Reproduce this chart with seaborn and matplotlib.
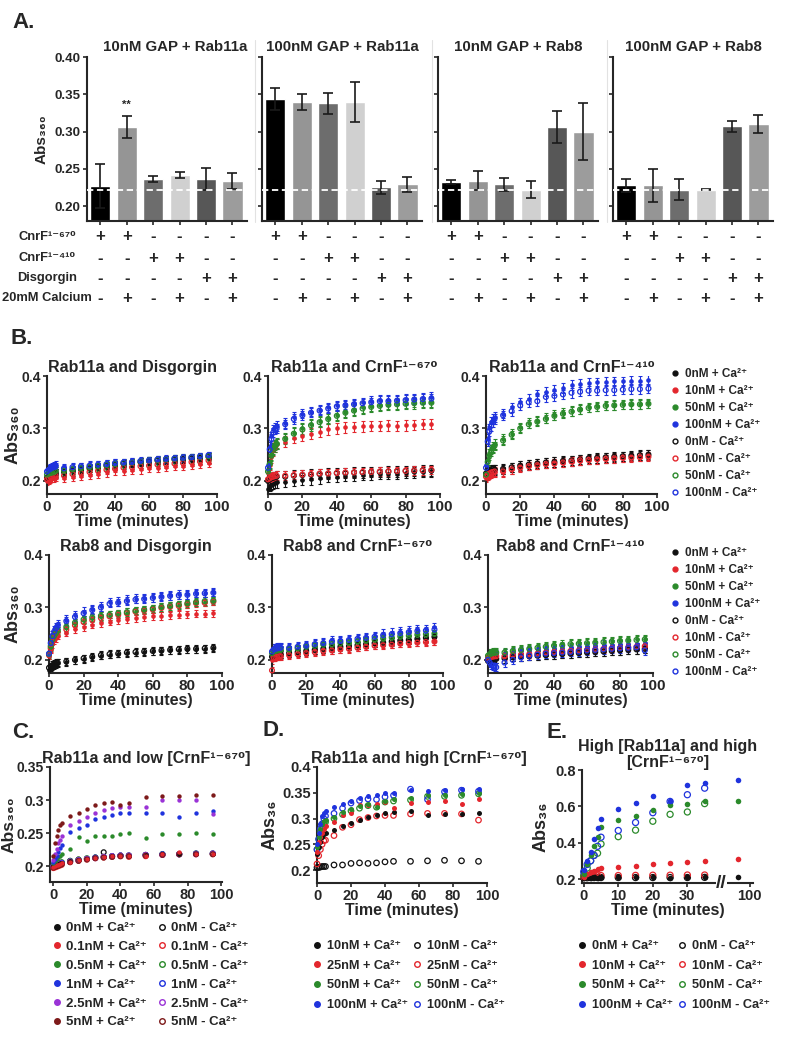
import numpy as np
import pandas as pd
import matplotlib
matplotlib.use('Agg')
import matplotlib.pyplot as plt
import matplotlib.transforms as mtrans
from matplotlib.lines import Line2D
import seaborn as sns

sns.set_style('ticks')
plt.rcParams['font.family'] = ['Liberation Sans', 'DejaVu Sans']
plt.rcParams['font.weight'] = 'bold'
plt.rcParams['axes.labelweight'] = 'bold'
plt.rcParams['axes.titleweight'] = 'bold'
plt.rcParams['axes.linewidth'] = 1.5
plt.rcParams['xtick.major.width'] = 1.2
plt.rcParams['ytick.major.width'] = 1.2
plt.rcParams['xtick.major.size'] = 3
plt.rcParams['ytick.major.size'] = 3
plt.rcParams['xtick.major.pad'] = 1.5
plt.rcParams['ytick.major.pad'] = 1.5

# ---------------- data ----------------
# A: end-point absorbance, 6 lanes per GAP/Rab combination
a_lanes = ['l1', 'l2', 'l3', 'l4', 'l5', 'l6']
a_gap10_rab11 = [0.227, 0.306, 0.236, 0.242, 0.236, 0.234]
a_gap10_rab11_err = [0.029, 0.015, 0.004, 0.004, 0.015, 0.011]
a_gap100_rab11 = [0.344, 0.340, 0.338, 0.340, 0.225, 0.229]
a_gap100_rab11_err = [0.015, 0.011, 0.014, 0.027, 0.009, 0.010]
a_gap10_rab8 = [0.232, 0.234, 0.229, 0.222, 0.306, 0.300]
a_gap10_rab8_err = [0.003, 0.013, 0.009, 0.011, 0.022, 0.038]
a_gap100_rab8 = [0.228, 0.228, 0.222, 0.222, 0.307, 0.310]
a_gap100_rab8_err = [0.009, 0.022, 0.014, 0.001, 0.007, 0.012]
a_baseline = 0.222
a_row_names = ['CnrF¹⁻⁶⁷⁰', 'CnrF¹⁻⁴¹⁰', 'Disgorgin', '20mM Calcium']
a_row_signs = [['+', '+', '-', '-', '-', '-'],
               ['-', '-', '+', '+', '-', '-'],
               ['-', '-', '-', '-', '+', '+'],
               ['-', '+', '-', '+', '-', '+']]

# B: time courses (milli-absorbance), conc order 0, 10, 50, 100 nM
b_time = [0, 1, 2, 3, 4, 5, 10, 15, 20, 25, 30, 35, 40, 45, 50, 55, 60, 65, 70, 75, 80, 85, 90, 95]
r11_dis_plus = [
    [205, 208, 210, 212, 213, 214, 215, 218, 220, 222, 224, 226, 228, 230, 231, 233, 235, 236, 237, 238, 239, 240, 241, 243],
    [200, 202, 204, 205, 206, 207, 205, 208, 210, 212, 214, 216, 220, 219, 221, 222, 224, 225, 226, 228, 229, 230, 232, 234],
    [210, 212, 214, 215, 216, 218, 218, 220, 222, 224, 226, 228, 230, 232, 234, 236, 237, 238, 240, 241, 242, 243, 244, 246],
    [220, 224, 226, 228, 229, 230, 226, 227, 228, 230, 231, 233, 234, 235, 236, 237, 239, 240, 241, 242, 243, 244, 246, 248]]
r11_dis_minus = [
    [206, 209, 211, 213, 214, 215, 217, 220, 222, 224, 227, 229, 231, 233, 234, 236, 238, 239, 240, 241, 242, 243, 244, 246],
    [203, 205, 207, 208, 209, 210, 210, 213, 215, 217, 219, 221, 223, 225, 226, 228, 229, 231, 232, 233, 234, 236, 237, 239],
    [212, 214, 215, 216, 217, 219, 219, 222, 224, 226, 228, 230, 232, 234, 235, 237, 239, 240, 241, 242, 244, 245, 246, 247],
    [218, 221, 223, 225, 226, 227, 224, 226, 228, 229, 231, 232, 234, 235, 236, 238, 239, 241, 242, 243, 244, 245, 247, 249]]
r11_dis_err = [8, 8, 8, 7, 7, 7, 7, 7]

r11_670_plus = [
    [185, 190, 192, 194, 196, 197, 198, 200, 202, 203, 205, 207, 208, 209, 210, 211, 212, 213, 213, 214, 215, 216, 217, 218],
    [215, 230, 245, 258, 265, 270, 275, 282, 286, 290, 293, 298, 300, 302, 303, 304, 305, 305, 306, 305, 306, 307, 308, 308],
    [220, 235, 250, 262, 268, 272, 282, 292, 300, 308, 314, 320, 326, 332, 336, 340, 343, 345, 347, 348, 349, 350, 350, 350],
    [230, 265, 285, 298, 302, 305, 310, 322, 328, 332, 336, 340, 344, 346, 348, 350, 352, 354, 354, 355, 356, 357, 358, 360]]
r11_670_minus = [
    [200, 203, 205, 206, 207, 208, 208, 210, 211, 212, 213, 214, 215, 215, 216, 216, 217, 217, 218, 218, 219, 219, 220, 220],
    [203, 205, 207, 208, 209, 210, 210, 211, 212, 213, 214, 214, 215, 216, 216, 217, 217, 218, 218, 219, 219, 220, 220, 221],
    [218, 232, 248, 260, 266, 270, 280, 290, 298, 306, 312, 318, 324, 330, 334, 338, 341, 343, 345, 346, 347, 348, 349, 349],
    [225, 260, 280, 292, 298, 300, 308, 318, 325, 330, 334, 338, 342, 344, 346, 348, 350, 352, 352, 353, 354, 355, 356, 357]]
r11_670_err = [10, 10, 10, 9, 10, 8, 10, 9]

r11_410_plus = [
    [215, 218, 220, 221, 222, 222, 222, 225, 228, 230, 232, 234, 236, 237, 238, 240, 241, 243, 244, 245, 246, 247, 248, 249],
    [205, 210, 212, 214, 215, 216, 216, 222, 226, 228, 230, 232, 234, 234, 236, 238, 240, 241, 242, 243, 244, 245, 246, 247],
    [215, 240, 252, 260, 265, 270, 280, 290, 302, 310, 315, 320, 326, 330, 333, 337, 340, 342, 344, 345, 346, 347, 347, 348],
    [230, 280, 300, 312, 318, 322, 328, 340, 350, 356, 365, 370, 373, 377, 383, 385, 387, 388, 389, 390, 390, 391, 391, 392]]
r11_410_minus = [
    [214, 216, 218, 219, 220, 221, 223, 226, 229, 231, 233, 235, 236, 238, 239, 241, 243, 244, 245, 246, 247, 248, 249, 250],
    [208, 212, 214, 216, 217, 218, 218, 222, 225, 228, 230, 232, 233, 235, 237, 239, 240, 241, 242, 243, 244, 244, 245, 246],
    [212, 236, 248, 256, 262, 267, 277, 288, 300, 308, 313, 318, 324, 328, 332, 336, 339, 341, 343, 344, 345, 346, 346, 347],
    [225, 275, 295, 305, 312, 318, 325, 333, 344, 350, 352, 360, 362, 365, 368, 370, 372, 372, 373, 373, 374, 375, 375, 376]]
r11_410_err = [9, 8, 9, 9, 9, 8, 8, 9]

r8_dis_plus = [
    [180, 185, 188, 190, 192, 194, 196, 199, 202, 205, 208, 210, 212, 213, 214, 215, 216, 217, 218, 219, 220, 220, 221, 222],
    [208, 220, 230, 238, 242, 246, 252, 258, 263, 267, 270, 273, 276, 278, 280, 282, 283, 284, 285, 286, 287, 288, 288, 289],
    [210, 225, 238, 245, 250, 255, 262, 270, 276, 280, 283, 285, 288, 290, 293, 295, 297, 300, 302, 305, 307, 310, 311, 312],
    [215, 235, 248, 256, 262, 268, 277, 285, 292, 297, 302, 310, 311, 315, 317, 318, 319, 322, 323, 325, 325, 328, 328, 329]]
r8_dis_minus = [
    [185, 188, 190, 192, 194, 195, 197, 200, 203, 206, 209, 211, 212, 214, 215, 216, 217, 218, 219, 220, 221, 221, 222, 223],
    [209, 222, 235, 243, 248, 252, 258, 266, 272, 276, 280, 283, 286, 289, 292, 294, 296, 299, 301, 303, 306, 308, 309, 311],
    [211, 226, 239, 246, 251, 256, 263, 271, 277, 281, 284, 286, 289, 291, 294, 296, 298, 301, 303, 306, 308, 310, 312, 313],
    [212, 232, 245, 254, 260, 265, 274, 282, 289, 295, 300, 307, 309, 312, 315, 316, 318, 320, 322, 323, 324, 326, 327, 328]]
r8_dis_err = [7, 7, 8, 8, 7, 7, 7, 7]

r8_670_plus = [
    [205, 207, 208, 209, 210, 210, 212, 214, 216, 218, 220, 222, 224, 225, 227, 229, 231, 233, 234, 236, 238, 240, 241, 243],
    [200, 205, 206, 207, 208, 208, 210, 212, 214, 216, 218, 219, 221, 222, 224, 226, 228, 229, 230, 232, 233, 234, 235, 236],
    [212, 215, 216, 217, 218, 218, 219, 221, 224, 226, 228, 229, 231, 232, 234, 236, 238, 240, 242, 244, 245, 247, 248, 249],
    [218, 222, 223, 224, 225, 225, 224, 226, 228, 232, 234, 238, 238, 240, 242, 244, 246, 250, 252, 254, 256, 258, 259, 262]]
r8_670_minus = [
    [206, 208, 209, 210, 211, 211, 213, 215, 217, 219, 221, 223, 225, 226, 228, 230, 232, 233, 235, 237, 238, 240, 242, 244],
    [180, 204, 205, 206, 207, 207, 209, 211, 213, 215, 217, 218, 220, 221, 223, 225, 227, 228, 229, 231, 232, 233, 234, 235],
    [213, 216, 217, 218, 219, 219, 220, 222, 225, 227, 229, 230, 232, 233, 235, 237, 239, 241, 243, 245, 246, 248, 249, 250],
    [216, 220, 221, 222, 223, 223, 223, 225, 227, 230, 232, 235, 236, 238, 240, 242, 244, 247, 249, 251, 253, 255, 256, 258]]
r8_670_err = [7, 7, 7, 8, 7, 7, 7, 7]

r8_410_plus = [
    [200, 201, 202, 202, 203, 203, 204, 206, 207, 208, 209, 210, 211, 212, 213, 214, 215, 216, 217, 218, 219, 220, 221, 222],
    [205, 206, 207, 207, 208, 208, 208, 209, 211, 212, 213, 214, 216, 217, 218, 219, 220, 221, 222, 223, 224, 225, 226, 227],
    [210, 212, 213, 214, 215, 215, 215, 218, 220, 222, 224, 226, 228, 230, 231, 232, 233, 234, 235, 236, 237, 238, 239, 240],
    [205, 208, 209, 210, 210, 211, 212, 214, 216, 218, 220, 222, 223, 224, 225, 226, 227, 228, 229, 229, 230, 231, 231, 232]]
r8_410_minus = [
    [198, 199, 200, 201, 201, 202, 203, 205, 206, 207, 208, 209, 210, 211, 212, 213, 214, 215, 216, 217, 218, 219, 220, 221],
    [204, 205, 206, 206, 207, 207, 207, 209, 210, 211, 212, 214, 215, 216, 217, 218, 219, 220, 221, 222, 223, 224, 225, 226],
    [208, 211, 212, 213, 214, 214, 214, 217, 219, 221, 223, 225, 227, 228, 230, 231, 232, 233, 234, 235, 236, 237, 238, 239],
    [200, 195, 190, 188, 187, 186, 195, 200, 205, 208, 210, 212, 213, 214, 215, 216, 218, 219, 220, 221, 222, 223, 224, 218]]
r8_410_err = [9, 7, 8, 8, 8, 7, 7, 8]

b_conc = ['0nM', '10nM', '50nM', '100nM']

# C: low CrnF, conc 0, 0.1, 0.5, 1, 2.5, 5 nM (milli-absorbance)
c_time = [0, 1, 2, 3, 4, 5, 10, 15, 20, 25, 30, 35, 40, 45, 55, 65, 75, 85, 95]
c_conc = ['0nM', '0.1nM', '0.5nM', '1nM', '2.5nM', '5nM']
c_plus = [
    [200, 201, 202, 203, 204, 205, 208, 210, 211, 213, 214, 215, 216, 216, 217, 218, 218, 219, 219],
    [199, 200, 201, 202, 203, 204, 207, 209, 211, 212, 214, 215, 216, 215, 216, 218, 222, 219, 219],
    [205, 208, 211, 214, 216, 218, 226, 244, 238, 245, 245, 246, 248, 250, 243, 248, 249, 250, 248],
    [206, 211, 216, 222, 228, 232, 252, 257, 262, 272, 275, 277, 280, 281, 280, 281, 275, 280, 283],
    [210, 218, 226, 235, 240, 245, 262, 268, 275, 281, 285, 288, 290, 290, 290, 300, 300, 300, 279],
    [215, 235, 245, 255, 262, 265, 276, 280, 287, 292, 296, 297, 292, 296, 305, 306, 306, 307, 308]]
c_minus = [
    [200, 201, 202, 203, 204, 205, 208, 210, 211, 213, 221, 215, 216, 216, 217, 218, 218, 219, 219],
    [197, 198, 199, 200, 201, 202, 206, 208, 210, 212, 213, 214, 215, 214, 215, 217, 218, 218, 218],
    [201, 202, 203, 204, 205, 206, 208, 210, 212, 213, 214, 215, 216, 216, 217, 218, 218, 219, 219],
    [200, 201, 202, 203, 204, 205, 207, 209, 211, 213, 214, 215, 216, 216, 217, 218, 218, 219, 219],
    [199, 200, 201, 202, 203, 204, 207, 209, 211, 212, 214, 215, 216, 216, 217, 217, 218, 218, 219],
    [198, 199, 200, 201, 202, 203, 206, 208, 210, 212, 213, 214, 215, 215, 216, 217, 218, 218, 218]]

# D: high CrnF, conc 10, 25, 50, 100 nM
d_time = [0, 1, 2, 3, 4, 5, 10, 15, 20, 25, 30, 35, 40, 45, 55, 65, 75, 85, 95]
d_conc = ['10nM', '25nM', '50nM', '100nM']
d_plus = [
    [232, 245, 255, 265, 270, 272, 278, 285, 292, 298, 303, 306, 310, 312, 315, 307, 309, 308, 310],
    [235, 255, 265, 272, 280, 285, 293, 306, 310, 326, 327, 328, 332, 321, 330, 333, 334, 328, 337],
    [245, 265, 280, 290, 295, 297, 303, 313, 319, 324, 329, 323, 335, 337, 339, 346, 346, 348, 350],
    [250, 272, 290, 305, 310, 314, 323, 329, 335, 340, 343, 345, 350, 350, 355, 354, 355, 357, 357]]
d_minus = [
    [205, 205, 206, 207, 207, 207, 210, 210, 213, 214, 213, 214, 216, 217, 217, 218, 219, 218, 217],
    [212, 228, 240, 250, 257, 258, 267, 283, 288, 298, 302, 305, 306, 306, 309, 310, 310, 309, 297],
    [240, 260, 275, 285, 290, 293, 300, 308, 315, 320, 325, 322, 332, 334, 336, 343, 343, 345, 348],
    [240, 260, 280, 290, 300, 305, 310, 320, 330, 335, 338, 337, 342, 345, 357, 337, 352, 355, 353]]

# E: high Rab11a, conc 0, 10, 50, 100 nM; last point after axis break
e_time = [0, 1, 2, 3, 4, 5, 10, 15, 20, 25, 30, 35, 95]
e_conc = ['0nM', '10nM', '50nM', '100nM']
e_plus = [
    [208, 209, 208, 209, 208, 209, 209, 209, 210, 208, 209, 209, 210],
    [210, 225, 238, 245, 255, 260, 264, 273, 282, 287, 291, 300, 309],
    [230, 280, 330, 384, 430, 484, 524, 547, 582, 605, 615, 627, 629],
    [250, 300, 350, 420, 480, 530, 587, 618, 656, 627, 720, 730, 745]]
e_minus = [
    [207, 207, 208, 208, 208, 208, 208, 208, 208, 208, 208, 209, np.nan],
    [212, 214, 216, 217, 218, 219, 219, 220, 221, 221, 222, 222, np.nan],
    [220, 260, 300, 330, 342, 393, 433, 469, 518, 556, 569, 615, np.nan],
    [240, 280, 300, 330, 380, 430, 467, 511, 565, 627, 664, 700, np.nan]]

# ---------------- layout helpers ----------------
W, H = 786, 1048
fig = plt.figure(figsize=(W / 100, H / 100), dpi=100)


def box(l, t, r, b):
    return [l / W, 1 - b / H, (r - l) / W, (b - t) / H]


def fx(x):
    return x / W


def fy(y):
    return 1 - y / H


col4 = ['#111111', '#e3262d', '#2b8a2b', '#1f33dd']
col6 = ['#111111', '#e3262d', '#2b8a2b', '#1f33dd', '#9a33d6', '#7d1a1a']
SUB = '₃₆₀'


def draw_series(ax, t, vals, color, filled, size, err=None):
    y = np.asarray(vals, dtype=float) / 1000
    if err is not None:
        ax.errorbar(t, y, yerr=err / 1000, fmt='none', ecolor=color,
                    elinewidth=0.8, capsize=1.6, capthick=0.8, zorder=2)
    if filled:
        sns.scatterplot(x=t, y=y, ax=ax, color=color, edgecolor=color,
                        linewidth=0, s=size, clip_on=False, zorder=3)
    else:
        sns.scatterplot(x=t, y=y, ax=ax, color=color, facecolor='none',
                        edgecolor=color, linewidth=0.9, s=size * 1.2,
                        clip_on=False, zorder=3)


def handles(colors, labels_p, labels_m, ms):
    hp = [Line2D([0], [0], marker='o', ls='none', color=c, mfc=c, mec=c, ms=ms)
          for c in colors]
    hm = [Line2D([0], [0], marker='o', ls='none', color=c, mfc='none', mec=c,
                 ms=ms, mew=1.0) for c in colors]
    return hp + hm, labels_p + labels_m


def ylabel_at(ax, text, xpx, left, right, size):
    # xpx is the right edge of the rotated label, in figure pixels
    ax.set_ylabel(text, fontsize=size)
    ax.yaxis.set_label_coords((xpx - left) / (right - left), 0.5)


# ---------------- panel A ----------------
fig.text(fx(12), fy(22), 'A.', fontsize=16, va='center')
a_sets = [(a_gap10_rab11, a_gap10_rab11_err, '10nM GAP + Rab11a'),
          (a_gap100_rab11, a_gap100_rab11_err, '100nM GAP + Rab11a'),
          (a_gap10_rab8, a_gap10_rab8_err, '10nM GAP + Rab8'),
          (a_gap100_rab8, a_gap100_rab8_err, '100nM GAP + Rab8')]
a_colors = ['#000000', '#959595', '#6d6d6d', '#d0d0d0', '#575757', '#9c9c9c']
a_left = [87, 262, 438, 613]
a_row_y = [237, 258, 278, 298]
for xs in [255, 432, 607]:
    fig.add_artist(Line2D([fx(xs), fx(xs)], [fy(40), fy(222)], color='#e2e2e2', lw=0.8))

for i, ((vals, errs, title), left) in enumerate(zip(a_sets, a_left)):
    ax = fig.add_axes(box(left, 57, left + 160, 221))
    df = pd.DataFrame({'lane': a_lanes, 'abs': vals})
    sns.barplot(data=df, x='lane', y='abs', hue='lane', palette=a_colors,
                legend=False, width=0.76, saturation=1, errorbar=None, ax=ax)
    ax.errorbar(range(6), vals, yerr=errs, fmt='none', ecolor='#1a1a1a',
                elinewidth=1.2, capsize=3.6, capthick=1.2, zorder=3)
    ax.axhline(a_baseline, color='white', ls=(0, (3.5, 2)), lw=1.3, zorder=4)
    ax.set_xlim(-0.5, 5.55)
    ax.set_ylim(0.18, 0.40)
    ax.set_yticks([0.20, 0.25, 0.30, 0.35, 0.40])
    if i == 0:
        ax.set_yticklabels(['0.20', '0.25', '0.30', '0.35', '0.40'], fontsize=9.5)
        ylabel_at(ax, 'Abs' + SUB, 49, left, left + 160, 11)
        ax.text(1, 0.336, '**', ha='center', va='center', fontsize=8)
    else:
        ax.set_yticklabels([])
        ax.set_ylabel('')
    ax.set_xticks(range(6))
    ax.set_xticklabels([])
    ax.set_xlabel('')
    ax.set_title(title, fontsize=10.8, pad=4, x=0.55 if i == 0 else 0.5)
    sns.despine(ax=ax)
    trans = mtrans.blended_transform_factory(ax.transData, fig.transFigure)
    for signs, ypx in zip(a_row_signs, a_row_y):
        for j, s in enumerate(signs):
            ax.text(j, fy(ypx), s, transform=trans, ha='center', va='center', fontsize=12)

for name, ypx in zip(a_row_names, a_row_y):
    fig.text(fx(47), fy(ypx), name, ha='center', va='center', fontsize=9.3)

# ---------------- panel B ----------------
fig.text(fx(10), fy(339), 'B.', fontsize=16, va='center')
b_panels = [
    ('Rab11a and Disgorgin', r11_dis_plus, r11_dis_minus, r11_dis_err, (47, 376, 217, 494)),
    ('Rab11a and CrnF¹⁻⁶⁷⁰', r11_670_plus, r11_670_minus, r11_670_err, (268, 376, 440, 494)),
    ('Rab11a and CrnF¹⁻⁴¹⁰', r11_410_plus, r11_410_minus, r11_410_err, (486, 376, 657, 494)),
    ('Rab8 and Disgorgin', r8_dis_plus, r8_dis_minus, r8_dis_err, (49, 555, 222, 673)),
    ('Rab8 and CrnF¹⁻⁶⁷⁰', r8_670_plus, r8_670_minus, r8_670_err, (272, 555, 443, 673)),
    ('Rab8 and CrnF¹⁻⁴¹⁰', r8_410_plus, r8_410_minus, r8_410_err, (488, 555, 653, 673)),
]
for i, (title, plus, minus, err, pos) in enumerate(b_panels):
    ax = fig.add_axes(box(*pos))
    for k in range(4):
        draw_series(ax, b_time, plus[k], col4[k], True, 11, np.array(err[k]))
    for k in range(4):
        draw_series(ax, b_time, minus[k], col4[k], False, 10, np.array(err[4 + k]))
    ax.set_xlim(0, 100)
    ax.set_ylim(0.175, 0.40)
    ax.set_xticks([0, 20, 40, 60, 80, 100])
    ax.set_xticklabels(['0', '20', '40', '60', '80', '100'], fontsize=11)
    ax.set_yticks([0.2, 0.3, 0.4])
    ax.set_yticklabels(['0.2', '0.3', '0.4'], fontsize=10)
    ax.set_xlabel('Time (minutes)', fontsize=11.5, labelpad=0)
    if i % 3 == 0:
        ylabel_at(ax, 'Abs' + SUB, 22, pos[0], pos[2], 13)
    else:
        ax.set_ylabel('')
    ax.set_title(title, fontsize=11.5, pad=3)
    sns.despine(ax=ax)

b_plus_lab = [c + ' + Ca²⁺' for c in b_conc]
b_minus_lab = [c + ' - Ca²⁺' for c in b_conc]
for ytop in (368, 547):
    hh, ll = handles(col4, b_plus_lab, b_minus_lab, 3.5)
    fig.legend(hh, ll, loc='upper left', bbox_to_anchor=(fx(671), fy(ytop)),
               frameon=False, fontsize=8.5, handlelength=0.7, handletextpad=0.5,
               labelspacing=0.42, borderpad=0, borderaxespad=0)

# ---------------- panel C ----------------
fig.text(fx(12), fy(732), 'C.', fontsize=16, va='center')
ax = fig.add_axes(box(50, 767, 222, 882))
for k in range(6):
    draw_series(ax, c_time, c_minus[k], col6[k], False, 10)
for k in range(6):
    draw_series(ax, c_time, c_plus[k], col6[k], True, 10)
ax.set_xlim(-2, 100.5)
ax.set_ylim(0.176, 0.35)
ax.set_xticks([0, 20, 40, 60, 80, 100])
ax.set_xticklabels(['0', '20', '40', '60', '80', '100'], fontsize=10.5)
ax.set_yticks([0.2, 0.25, 0.3, 0.35])
ax.set_yticklabels(['0.2', '0.25', '0.3', '0.35'], fontsize=10)
ax.set_xlabel('Time (minutes)', fontsize=11.5, labelpad=0)
ylabel_at(ax, 'Abs' + SUB, 17, 50, 222, 12.5)
ax.set_title('Rab11a and low [CrnF¹⁻⁶⁷⁰]', fontsize=11.5, pad=3, x=0.56)
sns.despine(ax=ax)
hh, ll = handles(col6, [c + ' + Ca²⁺' for c in c_conc], [c + ' - Ca²⁺' for c in c_conc], 4)
fig.legend(hh, ll, ncol=2, loc='upper left', bbox_to_anchor=(fx(53), fy(922)),
           frameon=False, fontsize=9.5, handlelength=0.6, handletextpad=0.35,
           labelspacing=0.5, columnspacing=0.9, borderpad=0, borderaxespad=0)

# ---------------- panel D ----------------
fig.text(fx(263), fy(731), 'D.', fontsize=16, va='center')
ax = fig.add_axes(box(317, 767, 487, 883))
for k in range(4):
    draw_series(ax, d_time, d_minus[k], col4[k], False, 13)
for k in range(4):
    draw_series(ax, d_time, d_plus[k], col4[k], True, 13)
ax.set_xlim(0, 100)
ax.set_ylim(0.175, 0.40)
ax.set_xticks([0, 20, 40, 60, 80, 100])
ax.set_xticklabels(['0', '20', '40', '60', '80', '100'], fontsize=10.5)
ax.set_yticks([0.2, 0.25, 0.3, 0.35, 0.4])
ax.set_yticklabels(['0.2', '0.25', '0.3', '0.35', '0.4'], fontsize=10.5)
ax.set_xlabel('Time (minutes)', fontsize=11.5, labelpad=0)
ylabel_at(ax, 'Abs₃₆', 279, 317, 487, 13)
ax.set_title('Rab11a and high [CrnF¹⁻⁶⁷⁰]', fontsize=11.5, pad=3, x=0.6)
sns.despine(ax=ax)
hh, ll = handles(col4, [c + ' + Ca²⁺' for c in d_conc], [c + ' - Ca²⁺' for c in d_conc], 4)
fig.legend(hh, ll, ncol=2, loc='upper left', bbox_to_anchor=(fx(313), fy(940)),
           frameon=False, fontsize=9.2, handlelength=0.6, handletextpad=0.5,
           labelspacing=0.6, columnspacing=0.4, borderpad=0, borderaxespad=0)

# ---------------- panel E ----------------
fig.text(fx(547), fy(733), 'E.', fontsize=16, va='center')
ax = fig.add_axes(box(582, 770, 753, 883))


def e_pos(t):
    # broken time axis: linear up to 35 min, compressed after the break
    t = np.asarray(t, dtype=float)
    return np.where(t <= 38, t, 44.7 + 0.66 * (t - 95))


for k in range(4):
    draw_series(ax, e_pos(e_time), e_minus[k], col4[k], False, 16)
for k in range(4):
    draw_series(ax, e_pos(e_time), e_plus[k], col4[k], True, 16)
ax.set_xlim(-0.5, 49)
ax.set_ylim(0.178, 0.80)
ax.set_xticks(e_pos([0, 10, 20, 30, 100]))
ax.set_xticklabels(['0', '10', '20', '30', '100'], fontsize=10.5)
ax.set_yticks([0.2, 0.4, 0.6, 0.8])
ax.set_yticklabels(['0.2', '0.4', '0.6', '0.8'], fontsize=10.5)
ax.set_xlabel('Time (minutes)', fontsize=11.5, labelpad=0)
ylabel_at(ax, 'Abs₃₆', 550, 582, 753, 13)
ax.set_title('High [Rab11a] and high\n[CrnF¹⁻⁶⁷⁰]', fontsize=11.5, pad=2, linespacing=1.05)
break_x = float(e_pos(35) + e_pos(95)) / 2
ax.text(break_x, 0.178, '//', ha='center', va='center', fontsize=14,
        bbox=dict(fc='white', ec='none', pad=0.3), zorder=6, clip_on=False)
sns.despine(ax=ax)
hh, ll = handles(col4, [c + ' + Ca²⁺' for c in e_conc], [c + ' - Ca²⁺' for c in e_conc], 4)
fig.legend(hh, ll, ncol=2, loc='upper left', bbox_to_anchor=(fx(578), fy(940)),
           frameon=False, fontsize=9.2, handlelength=0.6, handletextpad=0.5,
           labelspacing=0.6, columnspacing=0.4, borderpad=0, borderaxespad=0)

fig.savefig('out.png', dpi=100, facecolor='white')
